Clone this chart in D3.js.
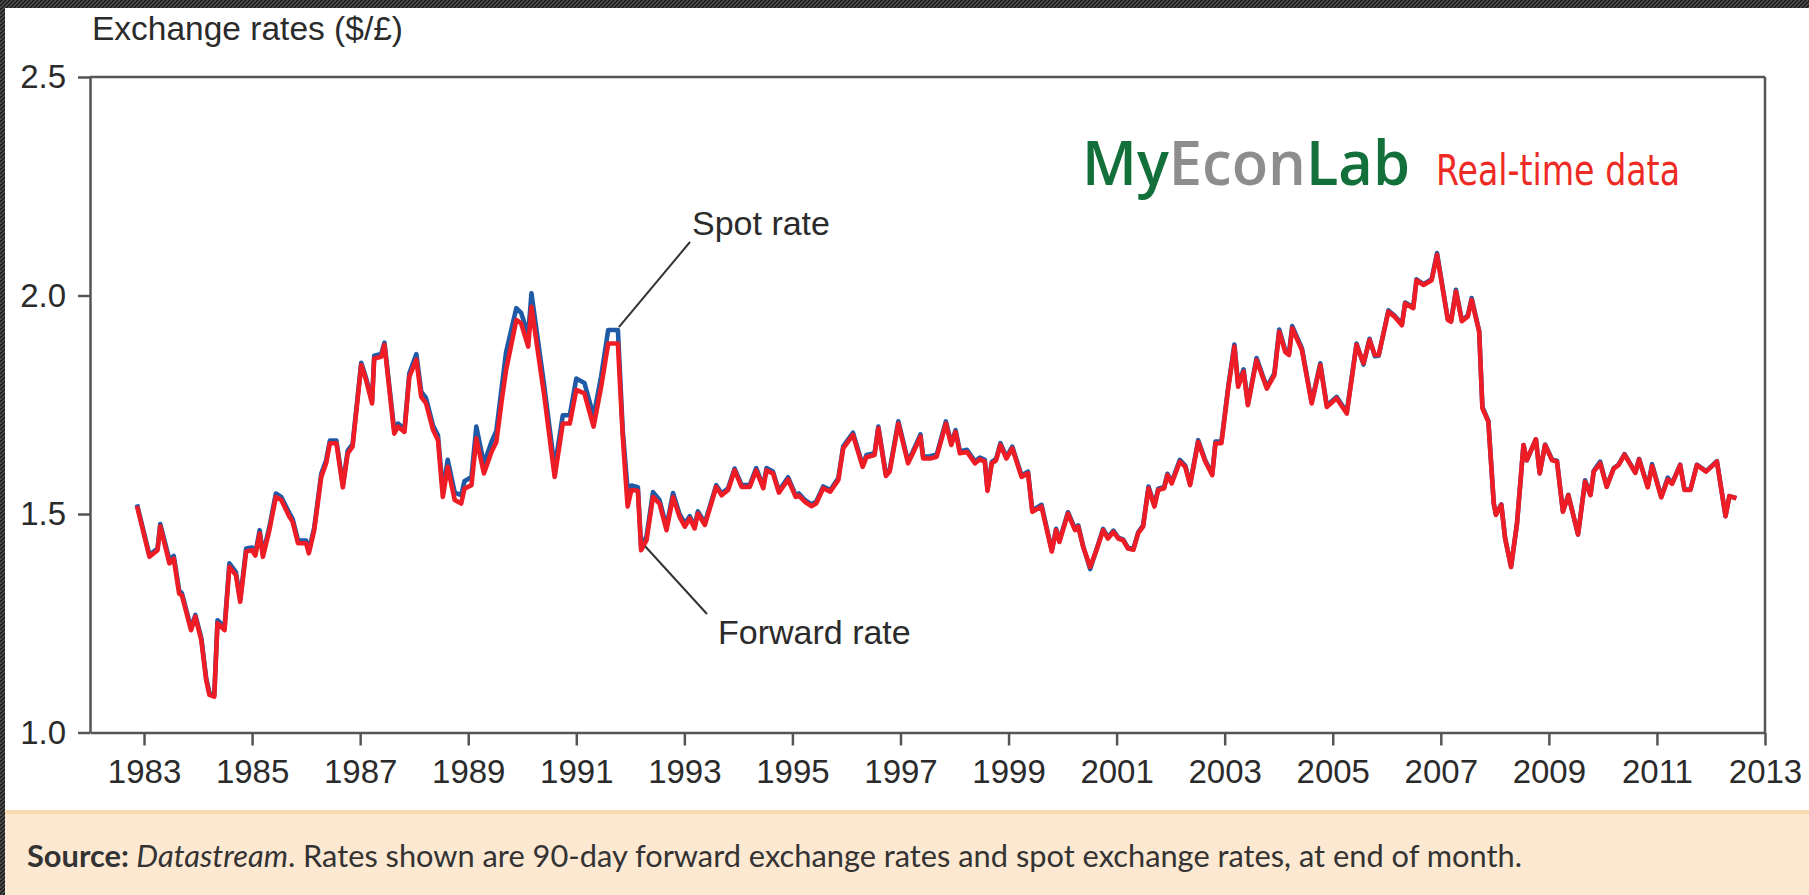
<!DOCTYPE html>
<html>
<head>
<meta charset="utf-8">
<script src="https://cdn.jsdelivr.net/npm/d3@7/dist/d3.min.js"></script>
<style>
  html, body { margin: 0; padding: 0; background: #fff; }
  svg { display: block; }
</style>
</head>
<body>
<svg id="chart" width="1809" height="895"></svg>
<script>
// ---- Data ----
const years = [
  1982.87,1983.10,1983.25,1983.30,1983.47,1983.55,1983.65,1983.70,1983.87,1983.95,
  1984.06,1984.15,1984.21,1984.30,1984.36,1984.49,1984.58,1984.70,1984.78,1984.89,
  1985.00,1985.06,1985.14,1985.20,1985.32,1985.44,1985.54,1985.69,1985.75,1985.85,
  1986.00,1986.05,1986.15,1986.28,1986.37,1986.44,1986.56,1986.68,1986.77,1986.86,
  1987.02,1987.11,1987.22,1987.26,1987.39,1987.45,1987.63,1987.70,1987.82,1987.91,
  1988.04,1988.13,1988.22,1988.35,1988.44,1988.53,1988.62,1988.75,1988.87,1988.93,
  1989.06,1989.15,1989.29,1989.43,1989.52,1989.62,1989.70,1989.89,1989.98,1990.11,
  1990.17,1990.41,1990.60,1990.75,1990.88,1991.00,1991.15,1991.32,1991.46,1991.59,
  1991.77,1991.86,1991.95,1992.02,1992.14,1992.20,1992.30,1992.42,1992.54,1992.67,
  1992.79,1992.91,1993.01,1993.10,1993.19,1993.25,1993.38,1993.59,1993.69,1993.81,
  1993.93,1994.06,1994.21,1994.33,1994.46,1994.52,1994.64,1994.75,1994.92,1995.06,
  1995.12,1995.23,1995.35,1995.44,1995.57,1995.70,1995.85,1995.94,1996.12,1996.30,
  1996.37,1996.52,1996.59,1996.73,1996.80,1996.96,1997.14,1997.23,1997.37,1997.42,
  1997.55,1997.67,1997.84,1997.94,1998.02,1998.10,1998.23,1998.38,1998.47,1998.56,
  1998.61,1998.69,1998.77,1998.85,1998.96,1999.07,1999.24,1999.36,1999.44,1999.61,
  1999.80,1999.88,1999.94,2000.10,2000.23,2000.29,2000.38,2000.51,2000.63,2000.75,
  2000.84,2000.94,2001.03,2001.12,2001.21,2001.31,2001.40,2001.49,2001.59,2001.70,
  2001.77,2001.88,2001.94,2002.02,2002.17,2002.27,2002.36,2002.51,2002.64,2002.77,
  2002.83,2002.94,2003.07,2003.18,2003.25,2003.35,2003.43,2003.59,2003.78,2003.92,
  2004.01,2004.12,2004.19,2004.25,2004.43,2004.61,2004.77,2004.89,2005.07,2005.26,
  2005.44,2005.57,2005.68,2005.78,2005.85,2006.03,2006.15,2006.28,2006.34,2006.49,
  2006.55,2006.68,2006.83,2006.93,2007.13,2007.19,2007.28,2007.39,2007.50,2007.57,
  2007.71,2007.77,2007.88,2007.98,2008.02,2008.12,2008.19,2008.30,2008.41,2008.53,
  2008.59,2008.76,2008.83,2008.93,2009.06,2009.15,2009.26,2009.36,2009.54,2009.67,
  2009.77,2009.83,2009.95,2010.07,2010.20,2010.29,2010.40,2010.60,2010.67,2010.83,
  2010.91,2011.08,2011.20,2011.28,2011.43,2011.51,2011.62,2011.74,2011.91,2012.11,
  2012.27,2012.34,2012.47
];

const forwardRate = [
  1.518,1.402,1.417,1.472,1.387,1.398,1.318,1.314,1.234,1.265,
  1.211,1.120,1.086,1.082,1.250,1.234,1.379,1.360,1.299,1.414,
  1.417,1.405,1.456,1.402,1.463,1.539,1.532,1.494,1.482,1.433,
  1.433,1.410,1.463,1.585,1.616,1.662,1.662,1.561,1.639,1.654,
  1.841,1.806,1.753,1.856,1.860,1.887,1.684,1.700,1.688,1.814,
  1.853,1.768,1.753,1.692,1.669,1.539,1.608,1.532,1.524,1.558,
  1.566,1.673,1.593,1.642,1.665,1.760,1.829,1.944,1.936,1.883,
  1.974,1.768,1.585,1.707,1.707,1.784,1.776,1.700,1.791,1.890,
  1.890,1.677,1.517,1.555,1.553,1.417,1.440,1.539,1.524,1.463,
  1.539,1.494,1.471,1.490,1.467,1.501,1.475,1.562,1.543,1.555,
  1.600,1.562,1.562,1.600,1.559,1.600,1.593,1.549,1.579,1.539,
  1.542,1.528,1.518,1.524,1.559,1.551,1.578,1.650,1.681,1.608,
  1.630,1.635,1.696,1.587,1.597,1.707,1.616,1.639,1.677,1.627,
  1.627,1.631,1.707,1.658,1.688,1.639,1.642,1.616,1.625,1.620,
  1.553,1.616,1.623,1.658,1.627,1.650,1.585,1.593,1.505,1.517,
  1.414,1.463,1.436,1.501,1.463,1.471,1.425,1.379,1.418,1.463,
  1.444,1.459,1.444,1.440,1.421,1.418,1.456,1.471,1.559,1.517,
  1.555,1.559,1.589,1.570,1.620,1.608,1.566,1.665,1.620,1.589,
  1.662,1.662,1.791,1.883,1.791,1.826,1.749,1.852,1.787,1.818,
  1.917,1.871,1.864,1.925,1.875,1.753,1.841,1.745,1.765,1.730,
  1.887,1.845,1.898,1.864,1.864,1.963,1.951,1.932,1.982,1.971,
  2.035,2.024,2.035,2.093,1.944,1.940,2.009,1.941,1.952,1.990,
  1.917,1.742,1.711,1.524,1.498,1.521,1.444,1.379,1.478,1.658,
  1.623,1.671,1.593,1.658,1.623,1.620,1.505,1.543,1.453,1.574,
  1.543,1.597,1.616,1.562,1.604,1.612,1.636,1.594,1.625,1.561,
  1.610,1.538,1.579,1.569,1.612,1.555,1.555,1.612,1.597,1.620,
  1.495,1.541,1.536
];

const spotRate = [
  1.522,1.406,1.421,1.477,1.395,1.404,1.325,1.319,1.239,1.269,
  1.216,1.125,1.091,1.086,1.257,1.241,1.387,1.367,1.305,1.421,
  1.423,1.410,1.463,1.408,1.470,1.547,1.539,1.502,1.489,1.440,
  1.439,1.415,1.469,1.592,1.623,1.668,1.668,1.566,1.645,1.660,
  1.846,1.811,1.758,1.862,1.866,1.892,1.692,1.707,1.694,1.822,
  1.866,1.780,1.765,1.702,1.680,1.553,1.624,1.549,1.543,1.575,
  1.585,1.700,1.615,1.665,1.690,1.790,1.870,1.971,1.960,1.910,
  2.005,1.790,1.605,1.726,1.726,1.810,1.800,1.724,1.815,1.921,
  1.921,1.690,1.555,1.565,1.561,1.425,1.449,1.550,1.532,1.470,
  1.548,1.500,1.478,1.495,1.472,1.506,1.480,1.566,1.547,1.559,
  1.604,1.566,1.566,1.605,1.563,1.605,1.597,1.553,1.584,1.543,
  1.547,1.532,1.522,1.528,1.563,1.555,1.582,1.655,1.686,1.612,
  1.635,1.639,1.700,1.591,1.601,1.712,1.620,1.643,1.682,1.631,
  1.632,1.636,1.712,1.662,1.692,1.643,1.647,1.620,1.629,1.624,
  1.556,1.619,1.626,1.662,1.630,1.654,1.588,1.597,1.508,1.521,
  1.417,1.466,1.439,1.504,1.466,1.474,1.427,1.374,1.420,1.466,
  1.447,1.462,1.446,1.442,1.423,1.420,1.458,1.474,1.563,1.520,
  1.558,1.562,1.592,1.573,1.624,1.611,1.569,1.669,1.623,1.592,
  1.666,1.666,1.795,1.888,1.795,1.831,1.752,1.857,1.790,1.822,
  1.922,1.875,1.868,1.930,1.879,1.756,1.845,1.748,1.768,1.733,
  1.890,1.842,1.901,1.861,1.862,1.966,1.953,1.934,1.984,1.973,
  2.037,2.026,2.037,2.097,1.946,1.942,2.013,1.943,1.954,1.994,
  1.919,1.745,1.713,1.525,1.499,1.522,1.445,1.379,1.478,1.658,
  1.623,1.671,1.593,1.659,1.624,1.622,1.506,1.544,1.453,1.577,
  1.544,1.599,1.620,1.563,1.605,1.613,1.637,1.595,1.626,1.562,
  1.614,1.539,1.583,1.570,1.613,1.556,1.556,1.613,1.598,1.621,
  1.495,1.541,1.536
];

const yTicks = [1.0, 1.5, 2.0, 2.5];
const xTicks = [1983,1985,1987,1989,1991,1993,1995,1997,1999,2001,2003,2005,2007,2009,2011,2013];

const titleText = "Exchange rates ($/£)";
const spotLabel = "Spot rate";
const forwardLabel = "Forward rate";
const spotAnchorIndex = 80;     // 1991.77 peak
const forwardAnchorIndex = 85;  // 1992.20 trough

// ---- Layout ----
const W = 1809, H = 895;
const svg = d3.select("#chart");
const AXIS = "#555";
const TEXT = "#2b2b2b";
const FONT = "'Liberation Sans', Arial, Helvetica, sans-serif";

const defs = svg.append("defs");
const pat = defs.append("pattern")
  .attr("id", "hatch").attr("patternUnits", "userSpaceOnUse")
  .attr("width", 4).attr("height", 4);
pat.append("rect").attr("width", 4).attr("height", 4).attr("fill", "#1c1c1c");
pat.append("path").attr("d", "M-1,1 l2,-2 M0,4 l4,-4 M3,5 l2,-2")
  .attr("stroke", "#5e5e5e").attr("stroke-width", 1.1);

// frame
svg.append("rect").attr("width", W).attr("height", H).attr("fill", "url(#hatch)");
svg.append("rect").attr("x", 5).attr("y", 8).attr("width", W - 5).attr("height", H - 8).attr("fill", "#fff");

// source box
svg.append("rect").attr("x", 5).attr("y", 810).attr("width", W - 5).attr("height", H - 810).attr("fill", "#fde8d2");
svg.append("rect").attr("x", 5).attr("y", 810).attr("width", W - 5).attr("height", 4).attr("fill", "#f8dbb0");

const x = d3.scaleLinear().domain([1982, 2013]).range([90, 1765]);
const y = d3.scaleLinear().domain([1.0, 2.5]).range([732.5, 77]);

// axes
const gy = svg.append("g").attr("transform", `translate(${x.range()[0]},0)`)
  .call(d3.axisLeft(y).tickValues(yTicks).tickFormat(d3.format(".1f"))
    .tickSize(12).tickSizeOuter(0).tickPadding(12));
const gx = svg.append("g").attr("transform", `translate(0,${y.range()[0]})`)
  .call(d3.axisBottom(x).tickValues(xTicks).tickFormat(d3.format("d"))
    .tickSize(13).tickSizeOuter(0).tickPadding(14.5));
[gx, gy].forEach(g => {
  g.select(".domain").attr("stroke", AXIS).attr("stroke-width", 2.5);
  g.selectAll(".tick line").attr("stroke", AXIS).attr("stroke-width", 2.5);
  g.selectAll(".tick text").attr("fill", TEXT).style("font-family", FONT).style("font-size", "33px");
});
// box top & right
svg.append("line").attr("x1", x.range()[0]).attr("x2", x.range()[1])
  .attr("y1", y(2.5)).attr("y2", y(2.5)).attr("stroke", AXIS).attr("stroke-width", 2.5);
svg.append("line").attr("x1", x.range()[1]).attr("x2", x.range()[1])
  .attr("y1", y(2.5)).attr("y2", y(1.0)).attr("stroke", AXIS).attr("stroke-width", 2.5);

// title
svg.append("text").attr("x", 92).attr("y", 40).attr("fill", TEXT)
  .style("font-family", FONT).style("font-size", "33.5px").text(titleText);

// lines
const rateLine = d3.line().x((d, i) => x(years[i])).y(d => y(d));
svg.append("path").datum(spotRate).attr("d", rateLine)
  .attr("fill", "none").attr("stroke", "#1f5aa6").attr("stroke-width", 4.6)
  .attr("stroke-linejoin", "round");
svg.append("path").datum(forwardRate).attr("d", rateLine)
  .attr("fill", "none").attr("stroke", "#ee1c25").attr("stroke-width", 4.6)
  .attr("stroke-linejoin", "round");

// annotations
const sx = x(years[spotAnchorIndex]), sy = y(spotRate[spotAnchorIndex]);
svg.append("line").attr("x1", sx + 1).attr("y1", sy - 3).attr("x2", 690).attr("y2", 242)
  .attr("stroke", "#333").attr("stroke-width", 2);
svg.append("text").attr("x", 692).attr("y", 235).attr("fill", TEXT)
  .style("font-family", FONT).style("font-size", "34px").text(spotLabel);

const fx = x(years[forwardAnchorIndex]), fy = y(forwardRate[forwardAnchorIndex]);
svg.append("line").attr("x1", fx + 4).attr("y1", fy - 4).attr("x2", 707).attr("y2", 614)
  .attr("stroke", "#333").attr("stroke-width", 2);
svg.append("text").attr("x", 718).attr("y", 644).attr("fill", TEXT)
  .style("font-family", FONT).style("font-size", "34px").text(forwardLabel);

// logo
const logo = svg.append("text").attr("x", 1082).attr("y", 185)
  .style("font-family", "'Open Sans', 'Noto Sans', sans-serif").style("font-weight", 600)
  .style("font-size", "62px").attr("textLength", 328).attr("lengthAdjust", "spacingAndGlyphs");
logo.append("tspan").attr("fill", "#13703b").text("My");
logo.append("tspan").attr("fill", "#8d8d8d").text("Econ");
logo.append("tspan").attr("fill", "#13703b").text("Lab");

svg.append("text").attr("x", 1436).attr("y", 185).attr("fill", "#ee2a24")
  .style("font-family", "'Liberation Sans Narrow', 'DejaVu Sans Condensed', sans-serif")
  .style("font-size", "43px").attr("textLength", 244).attr("lengthAdjust", "spacingAndGlyphs")
  .text("Real-time data");

// source note
const src = svg.append("text").attr("x", 27).attr("y", 867).attr("fill", "#333")
  .style("font-family", "Lato, 'Open Sans', sans-serif").style("font-size", "31px")
  .attr("textLength", 1495).attr("lengthAdjust", "spacingAndGlyphs");
src.append("tspan").style("font-weight", 700).text("Source: ");
src.append("tspan").style("font-style", "italic").text("Datastream");
src.append("tspan").text(". Rates shown are 90-day forward exchange rates and spot exchange rates, at end of month.");
</script>
</body>
</html>
